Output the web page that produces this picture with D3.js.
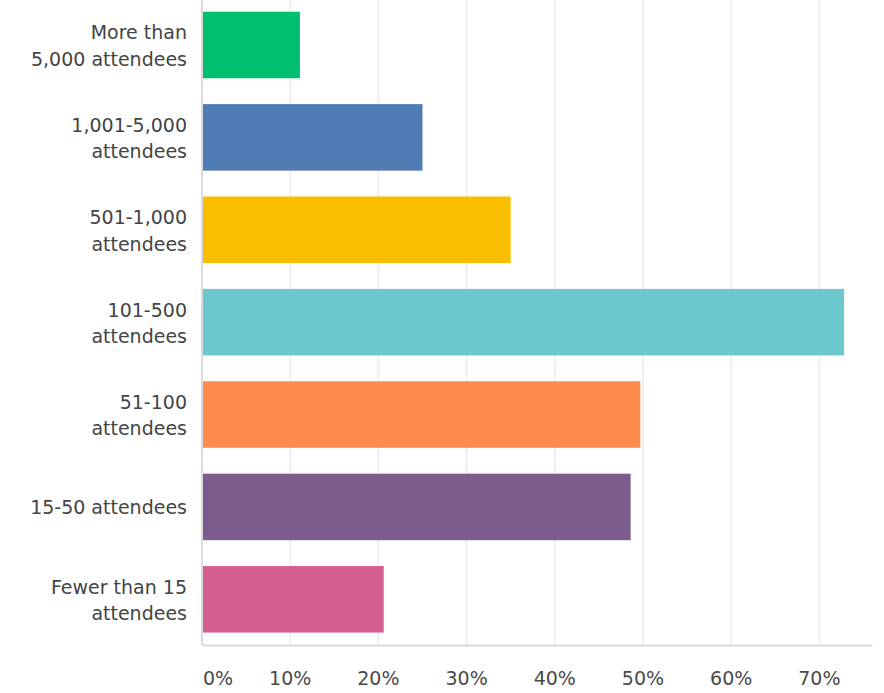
<!DOCTYPE html>
<html>
<head>
<meta charset="utf-8">
<script src="https://cdn.jsdelivr.net/npm/d3@7"></script>
<style>
  html, body { margin: 0; padding: 0; background: #ffffff; }
  svg { display: block; }
  text { font-family: "DejaVu Sans", "Noto Sans", sans-serif; }
</style>
</head>
<body>
<script>
// Event size categories (top to bottom), each label split into display lines
const categories = [
  ["More than", "5,000 attendees"],
  ["1,001-5,000", "attendees"],
  ["501-1,000", "attendees"],
  ["101-500", "attendees"],
  ["51-100", "attendees"],
  ["15-50 attendees"],
  ["Fewer than 15", "attendees"]
];
// Share of respondents, percent
const values = [11.1, 25.0, 35.0, 72.8, 49.7, 48.6, 20.6];
const colors = ["#00bf6f", "#507cb6", "#f9be00", "#6bc8cd", "#ff8b4f", "#7b5c8c", "#d25f90"];
const tickValues = [0, 10, 20, 30, 40, 50, 60, 70];
const tickLabels = ["0%", "10%", "20%", "30%", "40%", "50%", "60%", "70%"];

const W = 884, H = 693;
const svg = d3.select("body").append("svg").attr("width", W).attr("height", H);

const x = d3.scaleLinear().domain([0, 76]).range([202, 872.3]);
const y = d3.scaleBand()
  .domain(d3.range(categories.length))
  .range([-1.2, 645.5])
  .paddingInner(0.28)
  .paddingOuter(0.14);

const plotTop = -2, plotBottom = 645.5;

// vertical gridlines
svg.append("g").selectAll("line")
  .data(tickValues.slice(1))
  .join("line")
  .attr("x1", d => x(d)).attr("x2", d => x(d))
  .attr("y1", plotTop).attr("y2", plotBottom)
  .attr("stroke", "#efefef").attr("stroke-width", 2);

// bars
svg.append("g").selectAll("rect")
  .data(values)
  .join("rect")
  .attr("x", x(0))
  .attr("y", (d, i) => y(i))
  .attr("width", d => x(d) - x(0))
  .attr("height", y.bandwidth())
  .attr("fill", (d, i) => colors[i]);

// axis frame: left and bottom edges with a rounded corner
const r = 3;
svg.append("path")
  .attr("d", `M${x(0)},${plotTop} V${plotBottom - r} Q${x(0)},${plotBottom} ${x(0) + r},${plotBottom} H${x.range()[1]}`)
  .attr("fill", "none")
  .attr("stroke", "#dadada")
  .attr("stroke-width", 2);

// category labels
const lab = svg.append("g").selectAll("text")
  .data(categories)
  .join("text")
  .attr("text-anchor", "end")
  .attr("fill", "#444444")
  .attr("font-size", 19);
lab.each(function (lines, i) {
  const cy = y(i) + y.bandwidth() / 2;
  const t = d3.select(this);
  const offs = lines.length === 1 ? [6.8] : [-5.5, 20.8];
  lines.forEach((ln, k) => {
    t.append("tspan").attr("x", 187).attr("y", cy + offs[k]).text(ln);
  });
});

// x tick labels
svg.append("g").selectAll("text")
  .data(tickValues)
  .join("text")
  .attr("x", (d, i) => i === 0 ? x(d) + 1 : x(d))
  .attr("y", 685)
  .attr("text-anchor", (d, i) => i === 0 ? "start" : "middle")
  .attr("fill", "#4a4a4a")
  .attr("font-size", 19)
  .text((d, i) => tickLabels[i]);
</script>
</body>
</html>
